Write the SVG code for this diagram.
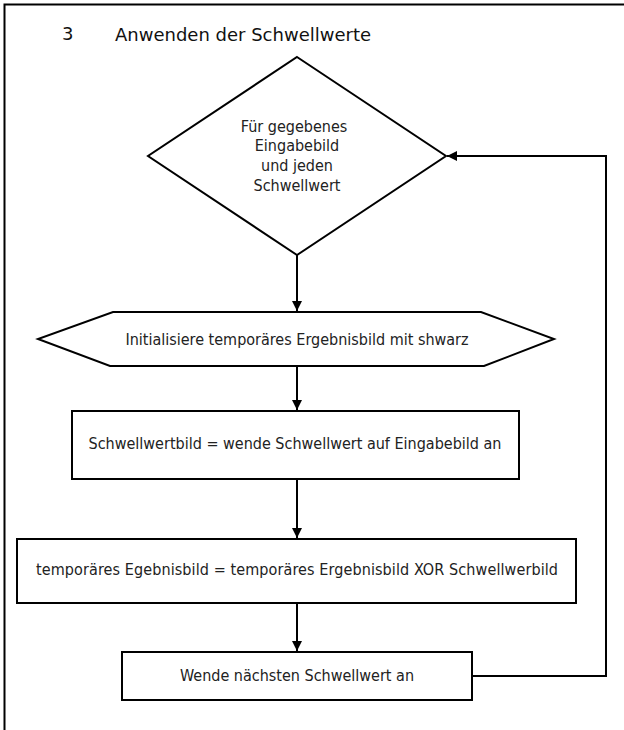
<svg xmlns="http://www.w3.org/2000/svg" width="624" height="730" viewBox="0 0 624 730">
  <style>
    .shape { fill: #ffffff; stroke: #000000; stroke-width: 2; }
    .edge { fill: none; stroke: #000000; stroke-width: 2; }
    .label { font-family: "DejaVu Sans Condensed", "DejaVu Sans", sans-serif; font-stretch: condensed; font-size: 16px; fill: #222222; text-anchor: middle; }
    .title { font-family: "DejaVu Sans", sans-serif; font-size: 18px; fill: #111111; }
  </style>
  <defs>
    <marker id="arrow" viewBox="0 0 10 10" refX="10" refY="5" markerWidth="10" markerHeight="10" markerUnits="userSpaceOnUse" orient="auto">
      <path d="M0,0 L10,5 L0,10 z" fill="#000000"/>
    </marker>
  </defs>

  <rect width="624" height="730" fill="#ffffff"/>
  <!-- frame (top and left edges) -->
  <path d="M4.5,730 L4.5,4.5 L624,4.5" fill="none" stroke="#000000" stroke-width="2"/>

  <!-- heading -->
  <g id="heading">
    <text class="title" x="62" y="40">3</text>
    <text class="title" x="115" y="41">Anwenden der Schwellwerte</text>
  </g>

  <!-- loop header -->
  <g id="loop">
    <polygon class="shape" points="297,57 446,156 297,255 148,156"/>
    <text class="label" x="294" y="132">Für gegebenes</text>
    <text class="label" x="297" y="151">Eingabebild</text>
    <text class="label" x="297" y="171">und jeden</text>
    <text class="label" x="297" y="191">Schwellwert</text>
  </g>

  <!-- preparation step -->
  <g id="init">
    <polygon class="shape" points="113,312 481,312 554,339 484,366 110,366 38,339"/>
    <text class="label" x="297" y="345">Initialisiere temporäres Ergebnisbild mit shwarz</text>
  </g>

  <g id="threshold">
    <rect class="shape" x="72" y="411" width="447" height="68"/>
    <text class="label" x="295" y="449">Schwellwertbild = wende Schwellwert auf Eingabebild an</text>
  </g>

  <g id="xor">
    <rect class="shape" x="17" y="539" width="559" height="64"/>
    <text class="label" x="297" y="575" textLength="522">temporäres Egebnisbild = temporäres Ergebnisbild XOR Schwellwerbild</text>
  </g>

  <g id="next">
    <rect class="shape" x="122" y="652" width="350" height="48"/>
    <text class="label" x="297" y="681">Wende nächsten Schwellwert an</text>
  </g>

  <!-- connectors -->
  <g id="connectors">
    <path class="edge" d="M297,255 L297,311" marker-end="url(#arrow)"/>
    <path class="edge" d="M297,366 L297,410" marker-end="url(#arrow)"/>
    <path class="edge" d="M297,479 L297,538" marker-end="url(#arrow)"/>
    <path class="edge" d="M297,603 L297,651" marker-end="url(#arrow)"/>
    <path class="edge" d="M472,676 L606,676 L606,156 L447,156" marker-end="url(#arrow)"/>
  </g>
</svg>
